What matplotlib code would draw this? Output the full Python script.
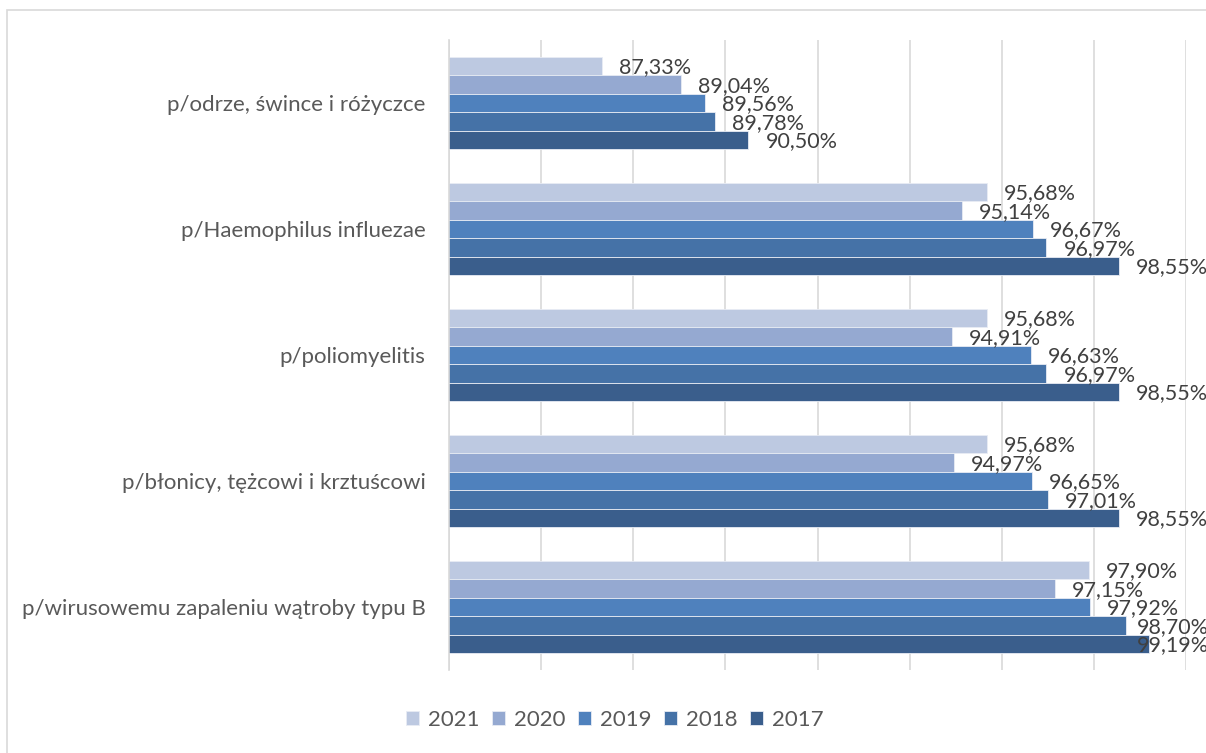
import numpy as np
import matplotlib.pyplot as plt
from matplotlib.patches import Rectangle

plt.rcParams['font.family'] = ['Lato', 'DejaVu Sans']

categories = [
    "p/odrze, śwince i różyczce",
    "p/Haemophilus influezae",
    "p/poliomyelitis",
    "p/błonicy, tężcowi i krztuścowi",
    "p/wirusowemu zapaleniu wątroby typu B",
]
years = ["2021", "2020", "2019", "2018", "2017"]
v2021 = [87.33, 95.68, 95.68, 95.68, 97.90]
v2020 = [89.04, 95.14, 94.91, 94.97, 97.15]
v2019 = [89.56, 96.67, 96.63, 96.65, 97.92]
v2018 = [89.78, 96.97, 96.97, 97.01, 98.70]
v2017 = [90.50, 98.55, 98.55, 98.55, 99.19]
series = [v2021, v2020, v2019, v2018, v2017]
colors = ["#BDC9E1", "#95A9D1", "#4F81BD", "#4572A7", "#3A5E8C"]

fig = plt.figure(figsize=(12.06, 7.53), dpi=100)
ax = fig.add_axes([449 / 1206, 1 - 670 / 753, (1186 - 449) / 1206, 630 / 753])

# outer chart frame
fig.patches.append(Rectangle((7 / 1206, -0.1), 1.2, 1.1 - 10 / 753,
                             transform=fig.transFigure, fill=False,
                             edgecolor="#D9D9D9", linewidth=1.2))

y = np.arange(len(categories))
h = 0.146
for i, (vals, yr, c) in enumerate(zip(series, years, colors)):
    pos = y + (i - 2) * h
    ax.barh(pos, vals, height=h, left=0, color=c, edgecolor="#E8ECF4",
            linewidth=0.6, label=yr, zorder=2)
    for p, v in zip(pos, vals):
        # labels near the right edge get pushed back, as in the original
        lx = min(v + 0.37, 98.93)
        ax.text(lx, p + 0.01, f"{v:.2f}%".replace(".", ","), va="center",
                ha="left", fontsize=15.5, color="#404040", zorder=3)

ax.set_xlim(84, 100)
ax.set_ylim(len(categories) - 0.5, -0.5)
ax.set_xticks(np.arange(84, 101, 2))
ax.set_xticklabels([])
ax.tick_params(axis="x", length=0)
ax.grid(axis="x", color="#D9D9D9", linewidth=1.2, zorder=0)
ax.set_yticks(y)
ax.set_yticklabels(categories, fontsize=16, color="#595959")
ax.tick_params(axis="y", length=0, pad=17)
for s in ["top", "right", "bottom"]:
    ax.spines[s].set_visible(False)
ax.spines["left"].set_color("#D9D9D9")
ax.spines["left"].set_linewidth(1.2)

leg = fig.legend(loc="center", bbox_to_anchor=(615 / 1206, 1 - 720 / 753),
                 ncol=5, frameon=False, fontsize=16, handlelength=0.6,
                 handleheight=0.6, handletextpad=0.4, columnspacing=0.55)
for t in leg.get_texts():
    t.set_color("#595959")

fig.savefig("out.png", dpi=100)
